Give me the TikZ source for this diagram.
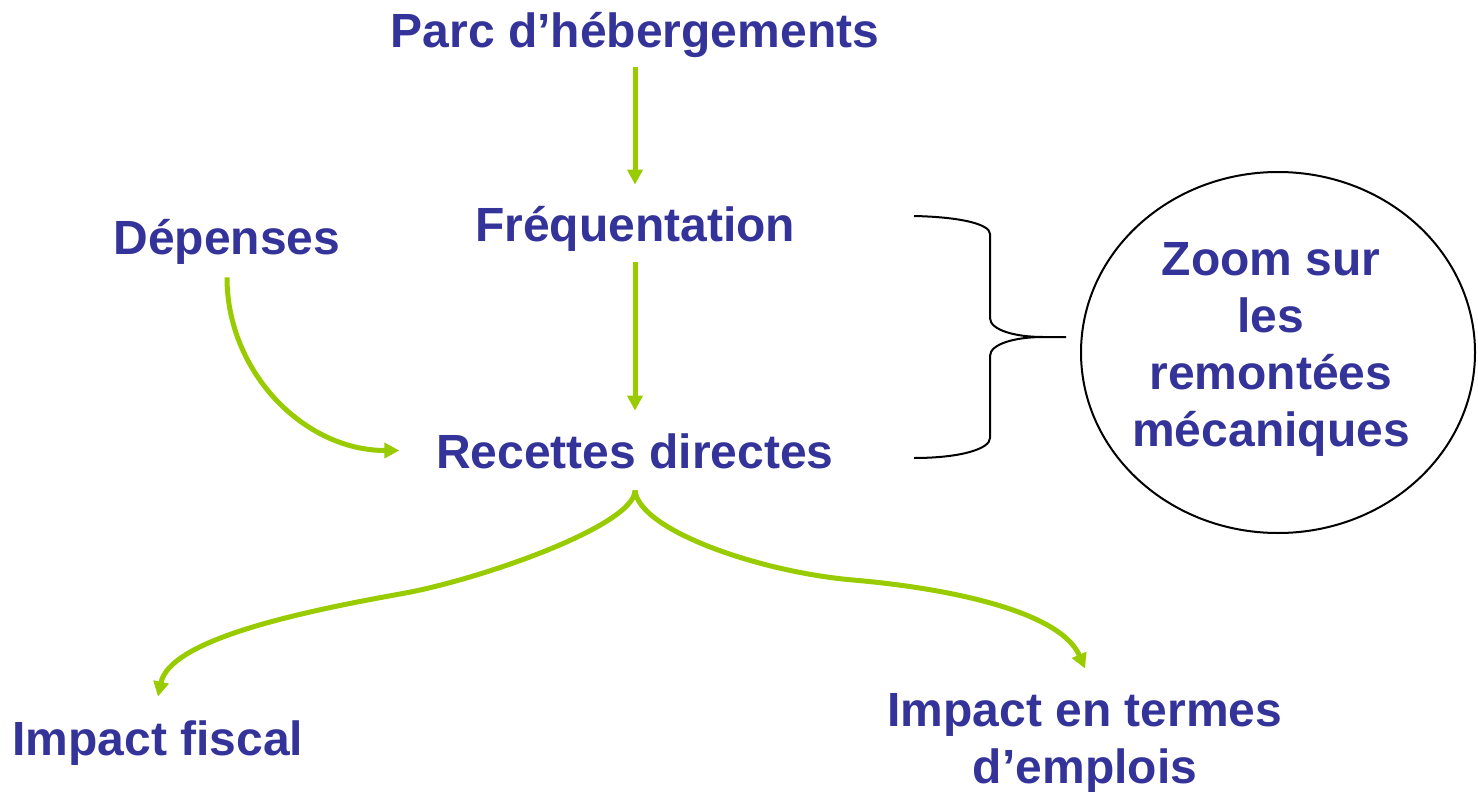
\documentclass[tikz,border=0pt]{standalone}
\usepackage{fontspec}
\setmainfont{Liberation Sans}
\usetikzlibrary{arrows.meta,shapes.geometric}
\definecolor{txtblue}{HTML}{333399}
\definecolor{agreen}{HTML}{99CC00}
\begin{document}
\begin{tikzpicture}[x=0.5pt,y=-0.5pt,
  lbl/.style={font=\fontsize{24pt}{28.5pt}\selectfont\bfseries, text=txtblue, inner sep=0pt, anchor=base, text height=17.5pt, text depth=0pt},
  lblm/.style={font=\fontsize{24pt}{28.5pt}\selectfont\bfseries, text=txtblue, inner sep=0pt, anchor=base, align=center},
  garrow/.style={draw=agreen, line width=2.5pt, -{Triangle[width=7.5pt,length=7.5pt]}},
  bracepath/.style={draw=black, line width=1pt}]
\useasboundingbox (0,0) rectangle (1478,792);

\node[lbl] (parc) at (635,48) {Parc d’hébergements};
\node[lbl] (freq) at (635,241) {Fréquentation};
\node[lbl] (dep) at (227,254) {Dépenses};
\node[lbl] (rec) at (635,468) {Recettes directes};
\node[lbl] (fisc) at (158,755) {Impact fiscal};
\node[lblm, text height=45.5pt, text depth=0pt] (empl) at (1085,783) {Impact en termes\\d’emplois};
\node[draw, line width=1pt, ellipse, minimum width=197pt, minimum height=180.5pt, inner sep=0pt] (zoom) at (1278,352.5) {};
\node[lblm] (ztxt) at (1271,446) {Zoom sur\\les\\remontées\\mécaniques};

\coordinate (lmid) at (400,594);
\coordinate (rmid) at (853,580);

\draw[garrow] ([yshift=-9.5pt]parc.south) -- ([yshift=10.5pt]freq.north);
\draw[garrow] ([yshift=-10.5pt]freq.south) -- ([yshift=11pt]rec.north);
\draw[garrow] ([yshift=-11.5pt]dep.south) .. controls +(0,95) and +(-95,0) .. ([xshift=-18.25pt]rec.west);
\draw[garrow] ([yshift=-11pt]rec.south) .. controls +(0,35) and +(80,-14) .. (lmid) .. controls +(-100,18) and +(12,-57) .. ([yshift=11.5pt]fisc.north);
\draw[garrow] ([yshift=-11pt]rec.south) .. controls +(4,40) and +(-93,-8) .. (rmid) .. controls +(93,8) and +(-25,-58) .. ([yshift=11.5pt]empl.north);

\draw[bracepath] (914,216) .. controls (960,217) and (990,224) .. (990,234) -- (990,318) .. controls (990,330) and (1015,337) .. (1043,337) -- (1066,337)
  (1043,337) .. controls (1015,337) and (990,344) .. (990,356) -- (990,438) .. controls (990,449) and (960,458) .. (914,458);
\end{tikzpicture}
\end{document}
